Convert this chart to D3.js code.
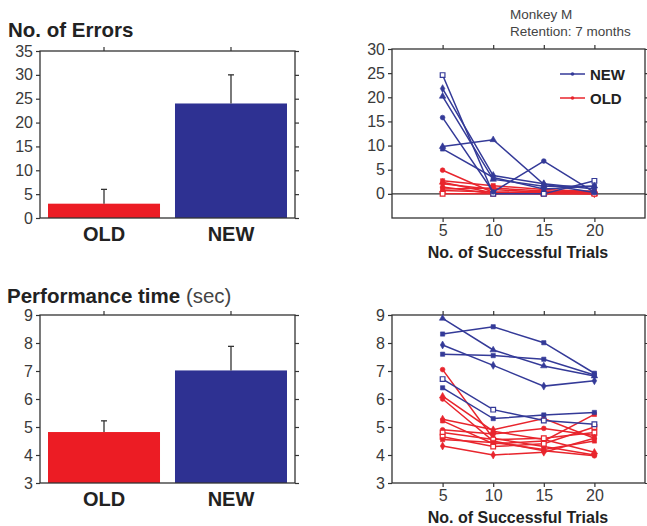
<!DOCTYPE html>
<html>
<head>
<meta charset="utf-8">
<script src="https://cdn.jsdelivr.net/npm/d3@7"></script>
<style>
  body { margin: 0; background: #fff; }
  svg { display: block; font-family: "Liberation Sans", Arial, Helvetica, sans-serif; }
</style>
</head>
<body>
<svg id="chart" width="647" height="526"></svg>
<script>
// bar panels
const barCategories = ["OLD", "NEW"];
const errorMeans = [3, 24];
const errorUpper = [6, 30];
const timeMeans = [4.82, 7.02];
const timeUpper = [5.22, 7.88];

// line panels
const trials = [5, 10, 15, 20];
const errNew = [
  [24.6, 0, 0, 2.7],
  [21.8, 3.8, 2.1, 1.0],
  [20.2, 3.0, 1.6, 1.6],
  [15.8, 0.4, 6.8, 0.3],
  [9.8, 11.2, 2.0, 0.3],
  [9.3, 3.4, 1.0, 1.6]
];
const errNewMarkers = ["squareOpen", "diamond", "triangle", "circle", "triangle", "square"];
const errOld = [
  [4.9, 0.3, 0.5, 0.2],
  [2.7, 1.7, 0.9, 0.5],
  [2.4, 0.2, 0.2, 0.6],
  [2.1, 0.9, 0.3, 0],
  [1.4, 0, 0.5, 0.3],
  [1.0, 1.2, 0.6, 0.2],
  [0.7, 0.4, 0, 0],
  [0, 0, 0, 0]
];
const errOldMarkers = ["circle", "square", "triangle", "diamond", "circle", "square", "triangle", "squareOpen"];
const timeNew = [
  [8.88, 7.75, 7.18, 6.82],
  [8.32, 8.58, 8.01, 6.92],
  [7.93, 7.2, 6.46, 6.65],
  [7.6, 7.55, 7.42, 6.86],
  [6.71, 5.62, 5.23, 5.1],
  [6.4, 5.3, 5.43, 5.52]
];
const timeNewMarkers = ["triangle", "square", "diamond", "square", "squareOpen", "square"];
const timeOld = [
  [7.05, 4.6, 4.3, 4.0],
  [6.1, 4.85, 4.55, 4.1],
  [6.0, 4.5, 4.15, 3.97],
  [5.28, 4.9, 5.3, 4.6],
  [5.22, 4.4, 4.5, 5.45],
  [4.9, 4.75, 4.95, 4.7],
  [4.8, 4.55, 4.6, 4.8],
  [4.65, 4.3, 4.4, 5.0],
  [4.55, 4.45, 4.2, 4.5],
  [4.32, 4.0, 4.1, 4.6]
];
const timeOldMarkers = ["circle", "triangle", "circle", "diamond", "square", "circle", "squareOpen", "squareOpen", "square", "diamond"];

const RED = "#ec1c24", BLUE = "#2e3192";
const LRED = "#e8252d", LBLUE = "#343a98";
const AXIS = "#333";
const TEXT = "#3a3a3a";

const svg = d3.select("#chart");

function frame(g, x0, x1, y0, y1) {
  g.append("rect")
    .attr("x", x0).attr("y", y1)
    .attr("width", x1 - x0).attr("height", y0 - y1)
    .attr("fill", "none").attr("stroke", AXIS).attr("stroke-width", 1.3);
}

function styleAxes(list) {
  list.forEach(a => {
    a.select(".domain").remove();
    a.selectAll("line").attr("stroke", AXIS).attr("stroke-width", 1.2);
    a.selectAll("text").attr("fill", TEXT).style("font-size", "16px");
  });
}

function barPanel(opts) {
  const g = svg.append("g");
  const x = d3.scaleBand().domain(barCategories).range([40, 295])
    .paddingInner(0.118).paddingOuter(0.063);
  const y = d3.scaleLinear().domain(opts.domain).range(opts.range);

  g.selectAll(".bar").data(barCategories).enter().append("rect")
    .attr("x", d => x(d))
    .attr("y", (d, i) => y(opts.means[i]))
    .attr("width", x.bandwidth())
    .attr("height", (d, i) => y(opts.domain[0]) - y(opts.means[i]))
    .attr("fill", (d, i) => i === 0 ? RED : BLUE);

  // error bars
  barCategories.forEach((c, i) => {
    const cx = x(c) + x.bandwidth() / 2;
    g.append("line").attr("x1", cx).attr("x2", cx)
      .attr("y1", y(opts.means[i])).attr("y2", y(opts.upper[i]))
      .attr("stroke", AXIS).attr("stroke-width", 1.3);
    g.append("line").attr("x1", cx - 3).attr("x2", cx + 3)
      .attr("y1", y(opts.upper[i])).attr("y2", y(opts.upper[i]))
      .attr("stroke", AXIS).attr("stroke-width", 1.3);
  });

  frame(g, 40, 295, opts.range[0], opts.range[1]);

  const left = g.append("g").attr("transform", "translate(40,0)")
    .call(d3.axisLeft(y).tickValues(opts.ticks).tickSize(4).tickPadding(3).tickFormat(d3.format("d")));
  const right = g.append("g").attr("transform", "translate(295,0)")
    .call(d3.axisRight(y).tickValues(opts.ticks).tickSize(4).tickFormat(""));
  const top = g.append("g").attr("transform", `translate(0,${opts.range[1]})`)
    .call(d3.axisTop(x).tickSize(4).tickFormat(""));
  styleAxes([left, right, top]);

  g.selectAll(".cat").data(barCategories).enter().append("text")
    .attr("x", d => x(d) + x.bandwidth() / 2)
    .attr("y", opts.range[0] + 23)
    .attr("text-anchor", "middle")
    .attr("font-weight", "bold").attr("font-size", 20).attr("fill", "#222")
    .text(d => d);
}

function linePanel(opts) {
  const g = svg.append("g");
  const x = d3.scaleLinear().domain([0, 25]).range([392, 645]);
  const y = d3.scaleLinear().domain(opts.domain).range(opts.range);

  frame(g, 392, 645, opts.range[0], opts.range[1]);

  const left = g.append("g").attr("transform", "translate(392,0)")
    .call(d3.axisLeft(y).tickValues(opts.ticks).tickSize(4).tickPadding(3).tickFormat(d3.format("d")));
  const right = g.append("g").attr("transform", "translate(645,0)")
    .call(d3.axisRight(y).tickValues(opts.ticks).tickSize(4).tickFormat(""));
  const bottom = g.append("g").attr("transform", `translate(0,${opts.range[0]})`)
    .call(d3.axisBottom(x).tickValues(trials).tickSize(4).tickPadding(3));
  const top = g.append("g").attr("transform", `translate(0,${opts.range[1]})`)
    .call(d3.axisTop(x).tickValues(trials).tickSize(4).tickFormat(""));
  styleAxes([left, right, bottom, top]);

  if (opts.zeroLine) {
    g.append("line").attr("x1", 392).attr("x2", 645)
      .attr("y1", y(0)).attr("y2", y(0))
      .attr("stroke", AXIS).attr("stroke-width", 1.3);
  }

  const line = d3.line().x((d, i) => x(trials[i])).y(d => y(d));
  const drawGroup = (series, markers, color) => {
    series.forEach((s, k) => {
      g.append("path").datum(s).attr("d", line)
        .attr("fill", "none").attr("stroke", color).attr("stroke-width", 1.5);
      const m = markers[k];
      const type = m === "circle" ? d3.symbolCircle
        : m === "diamond" ? d3.symbolDiamond
        : m === "triangle" ? d3.symbolTriangle
        : d3.symbolSquare;
      const open = m === "squareOpen";
      g.selectAll(null).data(s).enter().append("path")
        .attr("transform", (d, i) => `translate(${x(trials[i])},${y(d)})`)
        .attr("d", d3.symbol().type(type).size(open ? 22 : 18))
        .attr("fill", open ? "#fff" : color)
        .attr("stroke", color).attr("stroke-width", open ? 1.2 : 0.6);
    });
  };
  drawGroup(opts.old, opts.oldMarkers, LRED);
  drawGroup(opts.neu, opts.newMarkers, LBLUE);

  g.append("text").attr("x", 518).attr("y", opts.range[0] + 40)
    .attr("text-anchor", "middle").attr("font-weight", "bold")
    .attr("font-size", 16).attr("fill", "#222")
    .text("No. of Successful Trials");
}

// titles
svg.append("text").attr("x", 8).attr("y", 37)
  .attr("font-weight", "bold").attr("font-size", 20.5).attr("fill", "#222")
  .text("No. of Errors");
const pt = svg.append("text").attr("x", 7).attr("y", 303)
  .attr("font-size", 20.5).attr("fill", "#222");
pt.append("tspan").attr("font-weight", "bold").text("Performance time ");
pt.append("tspan").attr("fill", "#444").text("(sec)");

svg.append("text").attr("x", 510).attr("y", 19)
  .attr("font-size", 13.5).attr("fill", "#444").text("Monkey  M");
svg.append("text").attr("x", 510).attr("y", 36)
  .attr("font-size", 13.5).attr("fill", "#444").text("Retention: 7 months");

barPanel({ domain: [0, 35], range: [218, 51], ticks: d3.range(0, 36, 5),
  means: errorMeans, upper: errorUpper });
barPanel({ domain: [3, 9], range: [483, 315], ticks: d3.range(3, 10, 1),
  means: timeMeans, upper: timeUpper });

linePanel({ domain: [-5, 30], range: [218, 49], ticks: d3.range(0, 31, 5),
  zeroLine: true, neu: errNew, newMarkers: errNewMarkers, old: errOld, oldMarkers: errOldMarkers });
linePanel({ domain: [3, 9], range: [483, 315], ticks: d3.range(3, 10, 1),
  zeroLine: false, neu: timeNew, newMarkers: timeNewMarkers, old: timeOld, oldMarkers: timeOldMarkers });

// legend
const legend = [{ label: "NEW", color: LBLUE, y: 74 }, { label: "OLD", color: LRED, y: 98 }];
legend.forEach(l => {
  svg.append("line").attr("x1", 560).attr("x2", 585).attr("y1", l.y).attr("y2", l.y)
    .attr("stroke", l.color).attr("stroke-width", 1.5);
  svg.append("circle").attr("cx", 572.5).attr("cy", l.y).attr("r", 1.8).attr("fill", l.color);
  svg.append("text").attr("x", 590).attr("y", l.y + 5.5)
    .attr("font-weight", "bold").attr("font-size", 15).attr("fill", "#222").text(l.label);
});
</script>
</body>
</html>
